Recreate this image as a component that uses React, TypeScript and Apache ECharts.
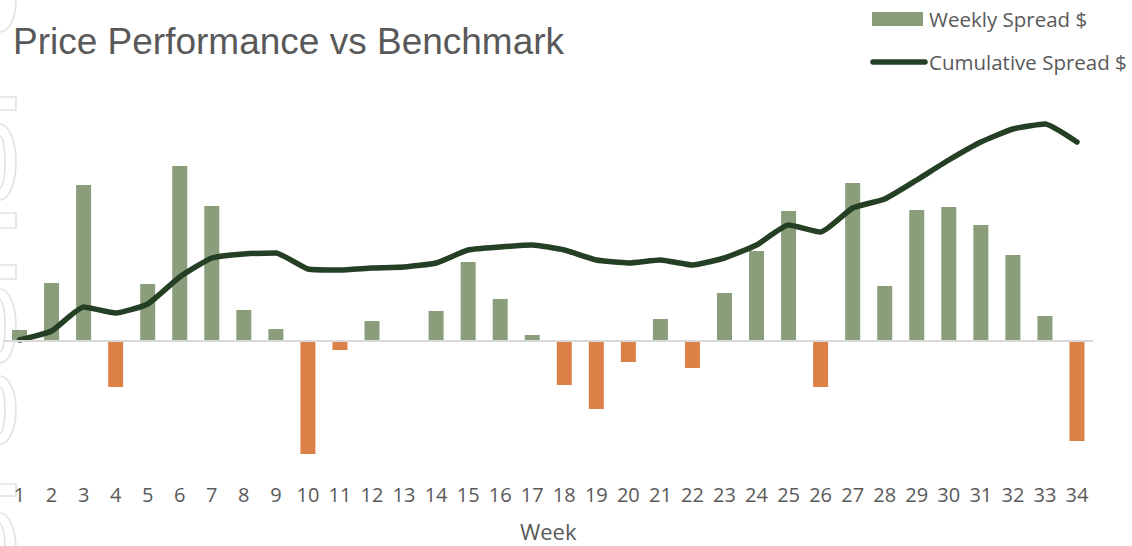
import React, { useEffect, useRef } from "react";
import * as echarts from "echarts";

const weeks: string[] = [
  "1","2","3","4","5","6","7","8","9","10","11","12","13","14","15","16","17",
  "18","19","20","21","22","23","24","25","26","27","28","29","30","31","32","33","34",
];
const weeklySpread: number[] = [
  11, 58, 156, -46, 57, 175, 135, 31, 12, -113, -9, 20, 0, 30, 79, 42, 6,
  -44, -68, -21, 22, -27, 48, 90, 130, -46, 158, 55, 131, 134, 116, 86, 25, -100,
];
const cumulativeSpread: number[] = [
  1, 10, 34, 28, 37, 64, 83, 87, 88, 72, 71, 73, 74, 78, 91, 94, 96,
  91, 81, 78, 81, 76, 83, 96, 116, 109, 133, 142, 161, 181, 199, 212, 217, 199,
];
const legendNames: string[] = ["Weekly Spread $", "Cumulative Spread $"];

const GREEN = "#8a9e7b";
const ORANGE = "#dc8047";
const LINE = "#253f25";
const TEXT = "#595959";
const WM = "#e2e2e2";

export default function App() {
  const ref = useRef<HTMLDivElement>(null);
  useEffect(() => {
    if (!ref.current) return;
    const chart = echarts.init(ref.current, undefined, { renderer: "svg" });
    const wmStroke = { fill: "none", stroke: WM, lineWidth: 1.6 };
    const wmEllipse = (cy: number, rx: number, ry: number) => ({
      type: "ellipse",
      silent: true,
      z: -10,
      shape: { cx: 0, cy, rx, ry },
      style: wmStroke,
    });
    const wmRect = (y: number, h: number) => ({
      type: "rect",
      silent: true,
      z: -10,
      shape: { x: -10, y, width: 26, height: h },
      style: wmStroke,
    });
    chart.setOption({
      animation: false,
      backgroundColor: "#ffffff",
      title: {
        text: "Price Performance vs Benchmark",
        left: 13,
        top: 23,
        padding: 0,
        textStyle: {
          fontFamily: "Liberation Sans",
          fontSize: 37,
          fontWeight: "normal",
          color: TEXT,
        },
      },
      graphic: [
        wmEllipse(0, 16, 32),
        wmRect(97, 13),
        wmEllipse(162, 16, 38),
        wmEllipse(162, 5, 26),
        wmRect(213, 15),
        wmRect(265, 14),
        wmEllipse(326, 16, 37),
        wmEllipse(326, 5, 26),
        wmEllipse(410, 16, 34),
        wmEllipse(410, 5, 23),
        wmRect(484, 12),
        wmEllipse(550, 16, 37),
        wmEllipse(550, 5, 26),
        {
          type: "rect",
          silent: true,
          shape: { x: 872, y: 12, width: 51, height: 14 },
          style: { fill: GREEN },
        },
        {
          type: "text",
          silent: true,
          x: 929,
          y: 19,
          style: {
            text: legendNames[0],
            fontFamily: "Open Sans",
            fontSize: 20.5,
            fill: TEXT,
            verticalAlign: "middle",
            align: "left",
          },
        },
        {
          type: "line",
          silent: true,
          shape: { x1: 873, y1: 62, x2: 925, y2: 62 },
          style: { stroke: LINE, lineWidth: 5.5, lineCap: "round" },
        },
        {
          type: "text",
          silent: true,
          x: 929,
          y: 62,
          style: {
            text: legendNames[1],
            fontFamily: "Open Sans",
            fontSize: 20.5,
            fill: TEXT,
            verticalAlign: "middle",
            align: "left",
          },
        },
      ],
      grid: { left: 3.5, right: 39, top: 100, bottom: 76, outerBoundsMode: "none" },
      xAxis: {
        type: "category",
        data: weeks,
        axisLine: { show: false },
        axisTick: { show: false },
        axisLabel: { fontFamily: "Open Sans", fontSize: 20, color: TEXT, margin: 14, interval: 0 },
        name: "Week",
        nameLocation: "middle",
        nameGap: 50,
        nameTextStyle: { fontFamily: "Open Sans", fontSize: 22, color: TEXT },
      },
      yAxis: {
        type: "value",
        min: -129,
        max: 241,
        show: false,
        splitLine: { show: false },
      },
      series: [
        {
          name: legendNames[0],
          type: "bar",
          barWidth: 15,
          z: 2,
          itemStyle: { color: GREEN },
          data: weeklySpread.map((v) => ({
            value: v,
            itemStyle: { color: v < 0 ? ORANGE : GREEN },
          })),
          markLine: {
            silent: true,
            symbol: "none",
            label: { show: false },
            lineStyle: { color: "#d9d9d9", width: 2, type: "solid" },
            data: [{ yAxis: 0 }],
          },
        },
        {
          name: legendNames[1],
          type: "line",
          z: 3,
          data: cumulativeSpread,
          smooth: 0.15,
          symbol: "none",
          lineStyle: { color: LINE, width: 5.5, cap: "round", join: "round" },
          itemStyle: { color: LINE },
        },
      ],
    });
    return () => chart.dispose();
  }, []);
  return (
    <div
      ref={ref}
      style={{ position: "fixed", left: 0, top: 0, width: 1132, height: 546 }}
    />
  );
}
